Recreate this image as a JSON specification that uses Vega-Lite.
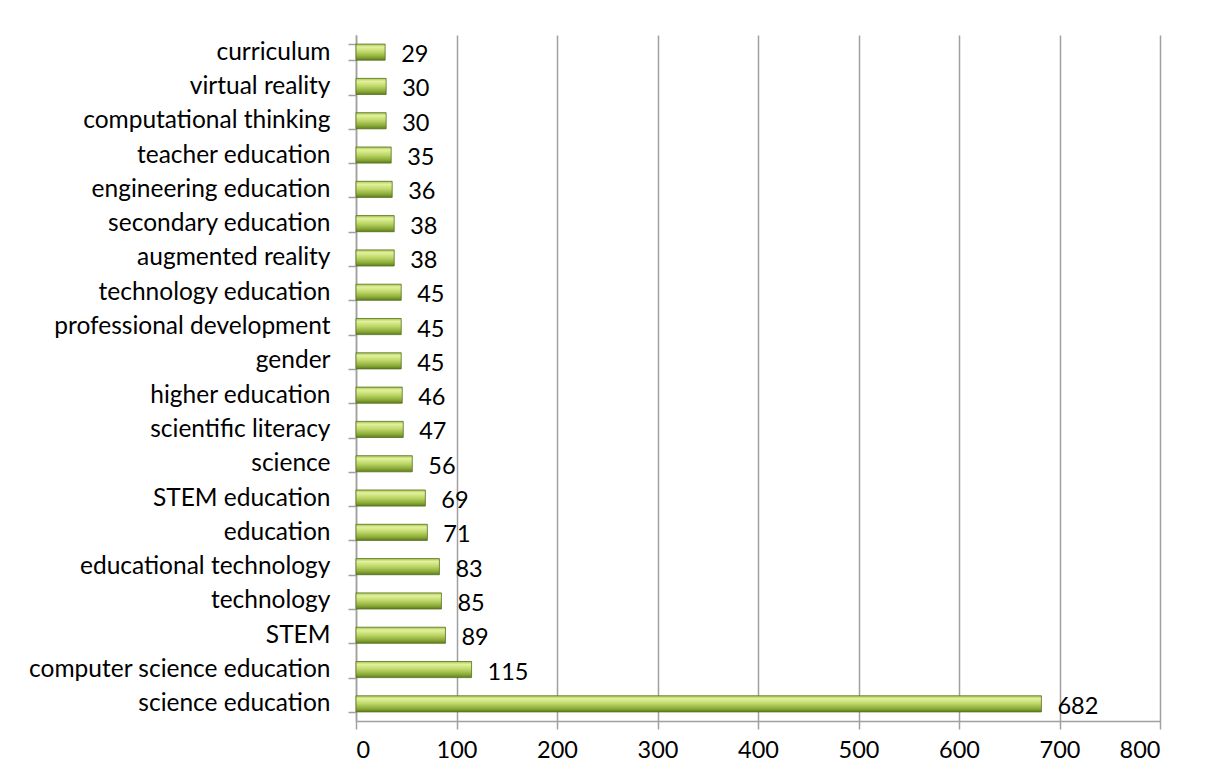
{
  "$schema": "https://vega.github.io/schema/vega-lite/v6.json",
  "autosize": "none",
  "padding": {"left": 356, "top": 35, "right": 45, "bottom": 61},
  "width": 804,
  "height": 686,
  "background": "white",
  "data": {"values": [
    {"keyword": "curriculum", "count": 29},
    {"keyword": "virtual reality", "count": 30},
    {"keyword": "computational thinking", "count": 30},
    {"keyword": "teacher education", "count": 35},
    {"keyword": "engineering education", "count": 36},
    {"keyword": "secondary education", "count": 38},
    {"keyword": "augmented reality", "count": 38},
    {"keyword": "technology education", "count": 45},
    {"keyword": "professional development", "count": 45},
    {"keyword": "gender", "count": 45},
    {"keyword": "higher education", "count": 46},
    {"keyword": "scientific literacy", "count": 47},
    {"keyword": "science", "count": 56},
    {"keyword": "STEM education", "count": 69},
    {"keyword": "education", "count": 71},
    {"keyword": "educational technology", "count": 83},
    {"keyword": "technology", "count": 85},
    {"keyword": "STEM", "count": 89},
    {"keyword": "computer science education", "count": 115},
    {"keyword": "science education", "count": 682}
  ]},
  "encoding": {
    "y": {
      "field": "keyword", "type": "nominal", "sort": null,
      "scale": {"paddingInner": 0.53, "paddingOuter": 0.265},
      "axis": {"title": null, "tickBand": "extent", "tickSize": 8, "labelPadding": 18, "labelLimit": 400,
               "labelFontSize": 24.5, "labelFont": "Lato", "labelColor": "#000000",
               "domainColor": "#a0a0a0", "tickColor": "#a0a0a0", "domainWidth": 1.5, "tickWidth": 1.5}
    },
    "x": {
      "field": "count", "type": "quantitative",
      "scale": {"domain": [0, 800], "nice": false},
      "axis": {"title": null, "values": [0, 100, 200, 300, 400, 500, 600, 700, 800],
               "grid": true, "gridColor": "#a0a0a0", "gridWidth": 1.5, "tickSize": 8,
               "labelPadding": 9, "labelFontSize": 23.5, "labelFont": "Lato", "labelColor": "#000000",
               "domainColor": "#a0a0a0", "tickColor": "#a0a0a0", "domainWidth": 1.5, "tickWidth": 1.5}
    }
  },
  "layer": [
    {
      "mark": {
        "type": "bar",
        "stroke": "#55701c",
        "strokeWidth": 0.8,
        "color": {
          "gradient": "linear", "x1": 0, "y1": 0, "x2": 0, "y2": 1,
          "stops": [
            {"offset": 0, "color": "#a8c453"},
            {"offset": 0.18, "color": "#e2f29c"},
            {"offset": 0.5, "color": "#bcd566"},
            {"offset": 0.8, "color": "#8aab38"},
            {"offset": 1, "color": "#5e7d1e"}
          ]
        }
      }
    },
    {
      "mark": {"type": "text", "align": "left", "baseline": "middle", "dx": 16, "dy": 3,
               "fontSize": 23.5, "font": "Lato", "color": "#000000"},
      "encoding": {"text": {"field": "count", "type": "quantitative"}}
    }
  ],
  "config": {"view": {"stroke": null}}
}
